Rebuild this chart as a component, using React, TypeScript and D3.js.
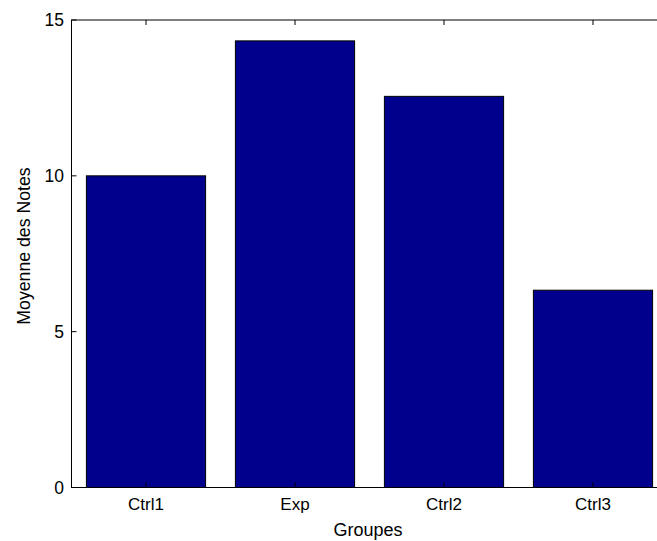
import React from "react";
import * as d3 from "d3";

const categories = ["Ctrl1", "Exp", "Ctrl2", "Ctrl3"];
const values = [10.0, 14.33, 12.55, 6.33];
const yTicks = [0, 5, 10, 15];

export default function App() {
  const W = 657, H = 541;
  const left = 71.5, right = 667.5, top = 20, bottom = 487.5;
  const x = d3.scaleLinear().domain([0.5, 4.5]).range([left, right]);
  const y = d3.scaleLinear().domain([0, 15]).range([bottom, top]);
  const bw = x(0.4) - x(0);
  const font = "'Liberation Sans', Arial, sans-serif";
  return (
    <svg width={W} height={H} style={{ position: "absolute", left: 0, top: 0, background: "#fff" }}>
      {values.map((v, i) => (
        <rect key={i} x={x(i + 1) - bw} y={y(v)} width={bw * 2} height={y(0) - y(v)}
          fill="#00008C" stroke="#000" strokeWidth={1} />
      ))}
      <rect x={left} y={top} width={right - left} height={bottom - top} fill="none" stroke="#000" strokeWidth={1} />
      {yTicks.map((t) => (
        <g key={t}>
          <line x1={left} x2={left + 5} y1={y(t)} y2={y(t)} stroke="#000" />
          <line x1={right} x2={right - 5} y1={y(t)} y2={y(t)} stroke="#000" />
          <text x={64} y={y(t)} dy="0.35em" textAnchor="end" fontFamily={font} fontSize={17.5}>{t}</text>
        </g>
      ))}
      {categories.map((c, i) => (
        <g key={c}>
          <line x1={x(i + 1)} x2={x(i + 1)} y1={bottom} y2={bottom - 5} stroke="#000" />
          <line x1={x(i + 1)} x2={x(i + 1)} y1={top} y2={top + 5} stroke="#000" />
          <text x={x(i + 1)} y={510} textAnchor="middle" fontFamily={font} fontSize={17}>{c}</text>
        </g>
      ))}
      <text x={368} y={536} textAnchor="middle" fontFamily={font} fontSize={18}>Groupes</text>
      <text transform={`translate(30,246) rotate(-90)`} textAnchor="middle" fontFamily={font} fontSize={17.7}>Moyenne des Notes</text>
    </svg>
  );
}
